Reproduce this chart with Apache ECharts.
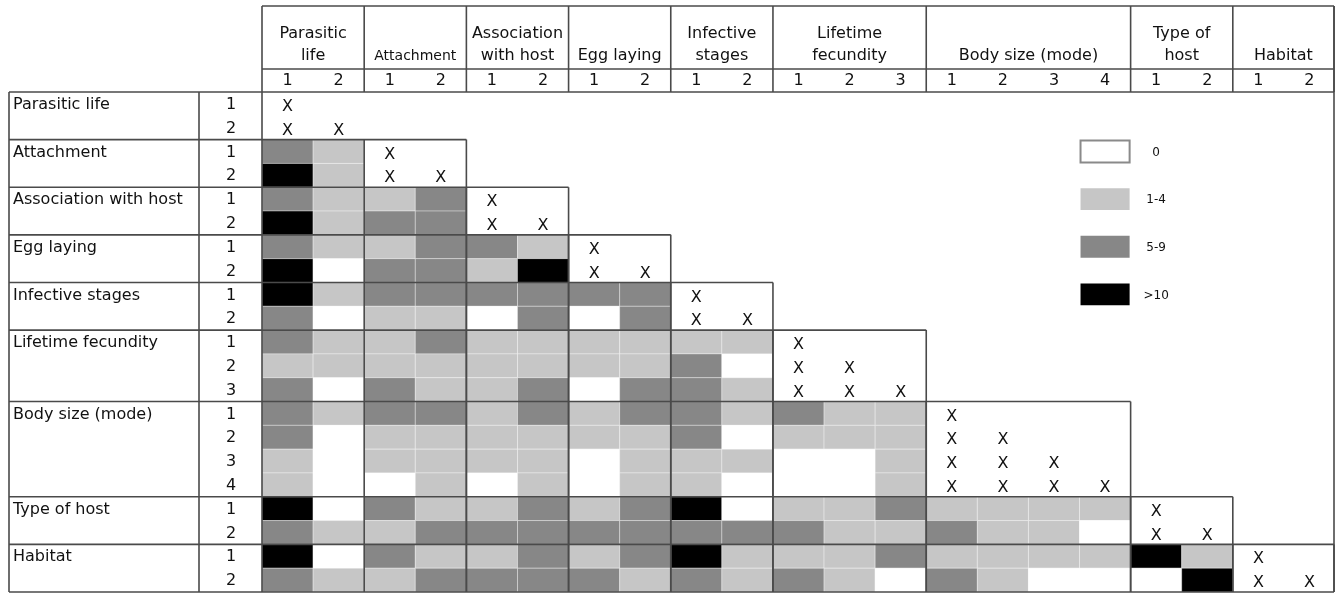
<!DOCTYPE html>
<html><head><meta charset="utf-8">
<script src="https://cdn.jsdelivr.net/npm/echarts/dist/echarts.min.js"></script>
<style>html,body{margin:0;padding:0;background:#fff}#c{width:1335px;height:593px}</style>
</head><body><div id="c"></div>
<script>
// ---------- data ----------
const variables = ['Parasitic life','Attachment','Association with host','Egg laying','Infective stages','Lifetime fecundity','Body size (mode)','Type of host','Habitat'];
const headerLabels = ['Parasitic\nlife','Attachment','Association\nwith host','Egg laying','Infective\nstages','Lifetime\nfecundity','Body size (mode)','Type of\nhost','Habitat'];
const levelCounts = [2,2,2,2,2,3,4,2,2];
const classLabels = ['0','1-4','5-9','>10'];
// class code per cell (0: "0", 1: "1-4", 2: "5-9", 3: ">10"), row by row, columns left of the diagonal block
const rowValues = [
  [],
  [],
  [2,1],
  [3,1],
  [2,1,1,2],
  [3,1,2,2],
  [2,1,1,2,2,1],
  [3,0,2,2,1,3],
  [3,1,2,2,2,2,2,2],
  [2,0,1,1,0,2,0,2],
  [2,1,1,2,1,1,1,1,1,1],
  [1,1,1,1,1,1,1,1,2,0],
  [2,0,2,1,1,2,0,2,2,1],
  [2,1,2,2,1,2,1,2,2,1,2,1,1],
  [2,0,1,1,1,1,1,1,2,0,1,1,1],
  [1,0,1,1,1,1,0,1,1,1,0,0,1],
  [1,0,0,1,0,1,0,1,1,0,0,0,1],
  [3,0,2,1,1,2,1,2,3,0,1,1,2,1,1,1,1],
  [2,1,1,2,2,2,2,2,2,2,2,1,1,2,1,1,0],
  [3,0,2,1,1,2,1,2,3,1,1,1,2,1,1,1,1,3,1],
  [2,1,1,2,2,2,2,1,2,1,2,1,0,2,1,0,0,0,3]
];

// ---------- styling ----------
const palette = ['#ffffff','#c6c6c6','#878787','#000000'];
const LINE = '#4a4a4a';
const FONT = "'DejaVu Sans', Verdana, sans-serif";

// ---------- structure ----------
const starts = [];
const levelIndex = [];
levelCounts.forEach((n, v) => { starts.push(levelIndex.length); for (let j = 1; j <= n; j++) levelIndex.push({v, lvl: j}); });
const N = levelIndex.length;
const cats = levelIndex.map((d, i) => String(i));

const cellData = [];
rowValues.forEach((vals, r) => vals.forEach((code, c) => cellData.push([c, r, code])));

const xData = [];
levelCounts.forEach((n, v) => {
  const s = starts[v];
  for (let i = 0; i < n; i++) for (let j = 0; j <= i; j++) xData.push([s + j, s + i]);
});

const frameData = variables.map((name, v) => [v]);
const legendData = classLabels.map((lab, i) => [i]);

const chart = echarts.init(document.getElementById('c'));

function cellItem(params, api) {
  const c = api.coord([api.value(0), api.value(1)]);
  const s = api.size([1, 1]);
  return {type: 'rect', shape: {x: c[0] - s[0] / 2, y: c[1] - s[1] / 2, width: s[0], height: s[1]},
    style: {fill: palette[api.value(2)], stroke: 'rgba(255,255,255,0.35)', lineWidth: 1}};
}

function xItem(params, api) {
  const c = api.coord([api.value(0), api.value(1)]);
  return {type: 'text', style: {text: 'X', x: c[0], y: c[1] + 3, align: 'center', verticalAlign: 'middle',
    fontSize: 16, fontFamily: FONT, fill: '#111'}};
}

function frameItem(params, api) {
  const v = api.value(0);
  const s = starts[v], n = levelCounts[v];
  const sz = api.size([1, 1]); const w = sz[0], h = sz[1];
  const p0 = api.coord([0, 0]); const x0 = p0[0] - w / 2, y0 = p0[1] - h / 2;
  const pe = api.coord([N - 1, N - 1]); const xR = pe[0] + w / 2 - 1, yB = pe[1] + h / 2;
  const ps = api.coord([s, s]);
  const left = ps[0] - w / 2, top = ps[1] - h / 2, right = Math.min(left + n * w, xR);
  const rhLeft = x0 - 253, rhDiv = x0 - 63, hTop = y0 - 86, hMid = y0 - 23;
  const L = (x1, y1, x2, y2) => ({type: 'line', shape: {x1, y1, x2, y2}, style: {stroke: LINE, lineWidth: 1.6}});
  const T = (text, x, y, opt) => ({type: 'text', style: Object.assign({text, x, y, align: 'center', verticalAlign: 'middle',
    fontSize: 16, fontFamily: FONT, fill: '#111'}, opt || {})});
  const ch = [];
  // header column divider
  ch.push(L(right, hTop, right, y0));
  if (v > 0) {
    ch.push(L(rhLeft, top, right, top));
    ch.push(L(left, top, left, yB));
    ch.push(L(right, top, right, yB));
  }
  ch.push(T(headerLabels[v], (left + right) / 2, hMid - 2,
    {verticalAlign: 'bottom', lineHeight: 22, fontSize: v === 1 ? 14 : 16}));
  for (let j = 0; j < n; j++) {
    ch.push(T(String(levelIndex[s + j].lvl), left + (j + 0.5) * w, y0 - 11));
    ch.push(T(String(levelIndex[s + j].lvl), x0 - 31, top + (j + 0.5) * h + 1));
  }
  ch.push(T(variables[v], rhLeft + 4, top + h / 2 + 1, {align: 'left'}));
  if (v === 0) {
    ch.push(L(x0, hTop, xR, hTop));
    ch.push(L(x0, hMid, xR, hMid));
    ch.push(L(rhLeft, y0, xR, y0));
    ch.push(L(x0, hTop, x0, yB));
    ch.push(L(rhLeft, y0, rhLeft, yB));
    ch.push(L(rhDiv, y0, rhDiv, yB));
    ch.push(L(rhLeft, yB, xR, yB));
    ch.push(L(xR, hTop, xR, yB));
  }
  return {type: 'group', children: ch};
}

function legendItem(params, api) {
  const i = api.value(0);
  const sz = api.size([1, 1]); const w = sz[0], h = sz[1];
  const c = api.coord([16, 2 + 2 * i]);
  const t = api.coord([17, 2 + 2 * i]);
  return {type: 'group', children: [
    {type: 'rect', shape: {x: c[0] - w / 2 + 1, y: c[1] - h / 2 + 1, width: w - 2, height: h - 2},
      style: {fill: palette[i], stroke: i === 0 ? '#8a8a8a' : null, lineWidth: 2}},
    {type: 'text', style: {text: classLabels[i], x: t[0], y: t[1] + 1, align: 'center', verticalAlign: 'middle',
      fontSize: 12, fontFamily: FONT, fill: '#111'}}
  ]};
}

chart.setOption({
  backgroundColor: '#ffffff',
  animation: false,
  grid: {left: 262, top: 92, right: 0, bottom: 1},
  xAxis: {type: 'category', data: cats, show: false},
  yAxis: {type: 'category', data: cats, inverse: true, show: false},
  series: [
    {type: 'custom', renderItem: cellItem, data: cellData, encode: {x: 0, y: 1}, z: 1},
    {type: 'custom', renderItem: frameItem, data: frameData, encode: {x: 0, y: 0}, z: 2, clip: false},
    {type: 'custom', renderItem: xItem, data: xData, encode: {x: 0, y: 1}, z: 3},
    {type: 'custom', renderItem: legendItem, data: legendData, encode: {x: 0, y: 0}, z: 3, clip: false}
  ]
});
</script>
</body></html>
